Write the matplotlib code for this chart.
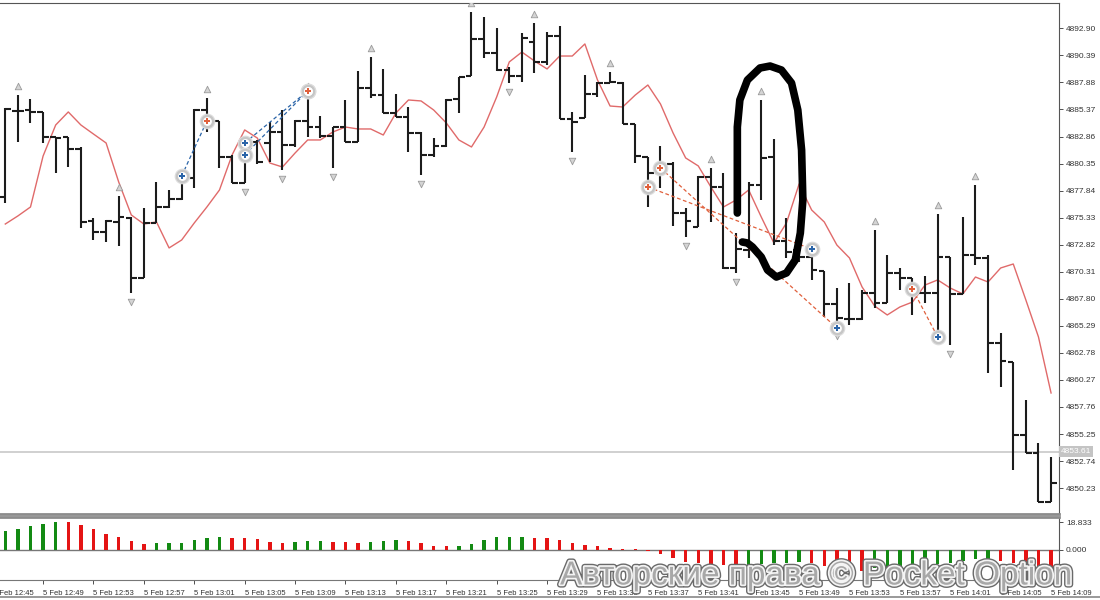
import numpy as np
import matplotlib.pyplot as plt
import matplotlib.patheffects as pe

# 1-minute bars, 5 Feb 12:46 .. 14:09
opens = [4877.25, 4885.23, 4885.32, 4885.14, 4882.82, 4882.82, 4881.70, 4875.02, 4874.00, 4874.93,
         4875.30, 4869.73, 4874.84, 4876.32, 4877.06, 4879.01, 4885.32, 4884.30, 4880.96, 4878.55,
         4882.35, 4882.26, 4883.28, 4882.07, 4884.30, 4883.74, 4882.91, 4883.74, 4882.35, 4887.36,
         4886.71, 4885.04, 4884.67, 4883.19, 4881.15, 4881.98, 4886.34, 4888.48, 4891.91, 4890.61,
         4889.03, 4888.48, 4891.63, 4889.78, 4892.19, 4884.49, 4884.58, 4886.81, 4887.83, 4887.83,
         4884.02, 4880.96, 4879.48, 4880.31, 4875.76, 4874.46, 4879.10, 4878.18, 4870.66, 4872.33,
         4878.36, 4880.96, 4873.17, 4872.33, 4871.68, 4870.38, 4867.32, 4865.93, 4865.93, 4868.34,
         4867.41, 4870.20, 4869.73, 4868.34, 4868.34, 4871.68, 4868.25, 4871.87, 4871.59, 4863.70,
         4861.94, 4855.16, 4853.49, 4848.94]
highs = [4885.51, 4886.71, 4886.34, 4885.14, 4882.82, 4882.82, 4881.89, 4875.30, 4875.11, 4877.34,
         4875.39, 4876.23, 4878.64, 4877.90, 4879.29, 4885.41, 4886.44, 4884.30, 4881.15, 4882.82,
         4882.54, 4884.21, 4885.32, 4884.39, 4886.71, 4884.77, 4883.74, 4886.25, 4888.94, 4890.24,
         4889.13, 4886.81, 4885.60, 4883.28, 4882.72, 4886.34, 4888.38, 4894.42, 4893.95, 4892.93,
         4889.31, 4892.47, 4893.40, 4892.56, 4893.12, 4885.14, 4888.57, 4887.92, 4888.85, 4887.92,
         4884.02, 4880.96, 4881.98, 4880.50, 4876.23, 4879.20, 4879.94, 4879.48, 4873.91, 4878.64,
         4886.25, 4882.63, 4875.30, 4874.19, 4872.42, 4870.38, 4868.80, 4869.27, 4868.62, 4874.19,
         4871.87, 4870.66, 4869.73, 4869.92, 4875.67, 4871.68, 4875.39, 4878.36, 4871.87, 4864.63,
         4861.94, 4858.41, 4854.42, 4853.12]
lows = [4876.69, 4882.35, 4884.12, 4882.26, 4879.48, 4880.03, 4874.37, 4873.26, 4873.07, 4872.70,
        4868.34, 4869.73, 4874.84, 4876.23, 4876.97, 4878.08, 4883.28, 4879.94, 4878.55, 4878.55,
        4880.31, 4880.50, 4879.75, 4881.89, 4882.82, 4882.72, 4879.94, 4882.35, 4882.35, 4886.44,
        4885.04, 4884.67, 4881.42, 4879.29, 4880.96, 4881.89, 4885.04, 4888.48, 4890.15, 4888.94,
        4887.83, 4887.92, 4888.76, 4889.50, 4884.49, 4881.42, 4884.58, 4886.53, 4887.83, 4884.02,
        4880.40, 4876.32, 4878.08, 4874.56, 4873.54, 4874.46, 4874.93, 4870.57, 4870.20, 4871.59,
        4876.97, 4872.79, 4871.59, 4871.22, 4869.55, 4866.11, 4865.18, 4865.37, 4865.83, 4866.95,
        4867.41, 4868.62, 4866.30, 4867.41, 4864.63, 4863.51, 4868.25, 4870.94, 4860.92, 4859.62,
        4851.91, 4853.49, 4848.94, 4848.94]
closes = [4885.41, 4885.23, 4885.14, 4882.82, 4882.72, 4881.70, 4874.93, 4874.00, 4875.02, 4875.39,
          4869.73, 4874.84, 4876.32, 4877.06, 4879.01, 4885.32, 4884.21, 4880.96, 4878.55, 4882.35,
          4880.50, 4883.28, 4882.07, 4884.30, 4883.74, 4882.91, 4883.74, 4882.35, 4887.36, 4886.71,
          4885.04, 4884.67, 4883.19, 4881.15, 4881.98, 4886.25, 4888.38, 4891.91, 4890.61, 4889.03,
          4888.48, 4892.00, 4889.78, 4892.19, 4884.49, 4884.21, 4886.81, 4887.83, 4887.92, 4884.02,
          4881.05, 4879.48, 4880.31, 4875.76, 4875.02, 4879.10, 4878.18, 4870.66, 4872.42, 4878.36,
          4880.87, 4873.17, 4872.14, 4871.68, 4870.47, 4867.32, 4866.02, 4865.93, 4868.34, 4867.41,
          4870.20, 4869.73, 4868.43, 4868.34, 4871.68, 4868.25, 4871.87, 4871.59, 4863.70, 4862.03,
          4855.16, 4853.49, 4848.94, 4850.71]

# moving average (red line)
ma = [4874.74, 4875.49, 4876.32, 4881.05, 4883.93, 4885.14, 4883.93, 4883.09, 4882.26, 4878.64,
      4875.58, 4874.74, 4874.93, 4872.52, 4873.26, 4874.84, 4876.32, 4877.90, 4881.15, 4883.47,
      4882.72, 4880.40, 4880.03, 4881.33, 4882.54, 4882.54, 4883.28, 4883.74, 4883.56, 4883.56,
      4883.00, 4885.04, 4886.25, 4886.16, 4885.32, 4884.12, 4882.54, 4881.89, 4883.74, 4886.53,
      4889.78, 4890.70, 4889.87, 4889.13, 4890.33, 4890.33, 4891.45, 4888.11, 4885.69, 4885.60,
      4886.71, 4887.64, 4885.88, 4883.19, 4880.87, 4880.13, 4878.18, 4876.32, 4876.97, 4877.90,
      4875.39, 4872.98, 4874.84, 4878.45, 4876.04, 4874.93, 4872.79, 4871.59, 4868.90, 4867.13,
      4866.30, 4867.04, 4867.50, 4869.08, 4869.55, 4868.80, 4868.25, 4869.82, 4869.36, 4870.66,
      4871.03, 4867.69, 4864.26, 4859.06]

# oscillator histogram
ao = [12.7, 14.3, 16.2, 17.8, 18.5, 18.5, 16.6, 13.9, 10.9, 8.8,
      6.0, 4.2, 4.6, 4.7, 4.8, 6.5, 8.3, 8.5, 8.3, 8.2,
      7.4, 5.3, 4.6, 5.3, 6.0, 6.2, 5.3, 5.1, 4.6, 5.3,
      6.0, 6.7, 6.0, 4.6, 3.0, 2.5, 2.7, 4.2, 6.7, 8.5,
      8.8, 9.0, 8.3, 7.8, 6.6, 4.7, 3.5, 2.4, 1.2, 0.7,
      0.5, -0.5, -2.8, -5.4, -8.2, -8.9, -9.4, -9.9, -11.3, -10.6,
      -9.4, -8.9, -8.7, -8.2, -8.9, -11.0, -12.5, -13.6, -14.1, -11.8,
      -11.6, -11.4, -11.2, -10.6, -9.4, -8.9, -7.5, -6.3, -5.9, -7.1,
      -8.9, -11.0, -12.9, -17.6]
ao_trend = "GGGGGRRRRRRRGGGGGGRRRRRGGGRRRGGGRRRRGGGGGGRRRRRRRRRRRRRRRRRGGGGGRRRRRGGGGGGGGGGRRRRR"

fractal_up = [1, 9, 16, 24, 29, 37, 42, 48, 56, 60, 69, 74, 77]
fractal_down = [10, 19, 22, 26, 33, 40, 45, 54, 58, 66, 75]

# trades: open bar/price -> close bar/price
trade_side = ["buy", "buy", "buy", "sell", "sell", "sell"]
trade_open_bar = [14, 19, 19, 51, 52, 72]
trade_open_price = [4879.20, 4882.26, 4881.15, 4878.18, 4879.94, 4868.71]
trade_close_bar = [16, 24, 24, 64, 66, 74]
trade_close_price = [4884.30, 4887.08, 4887.08, 4872.42, 4865.09, 4864.26]

# hand drawn loop (bar index, price)
loop_bar = [58.1, 58.1, 58.3, 58.9, 59.9, 60.7, 61.6, 62.4, 62.9, 63.2, 63.3, 63.1, 62.7, 62.0,
            61.2, 60.5, 60.0, 59.3, 58.9, 58.5]
loop_price = [4875.76, 4883.74, 4886.25, 4888.10, 4889.22, 4889.40, 4889.03, 4887.83, 4885.32,
              4881.61, 4876.97, 4873.91, 4871.40, 4870.20, 4869.82, 4870.47, 4871.68, 4872.61,
              4872.98, 4873.07]

price_ticks = [4892.90, 4890.39, 4887.88, 4885.37, 4882.86, 4880.35, 4877.84, 4875.33, 4872.82,
               4870.31, 4867.80, 4865.29, 4862.78, 4860.27, 4857.76, 4855.25, 4852.74, 4850.23]
last_price = 4853.61
time_labels = ["12:45", "12:49", "12:53", "12:57", "13:01", "13:05", "13:09", "13:13", "13:17",
               "13:21", "13:25", "13:29", "13:33", "13:37", "13:41", "13:45", "13:49", "13:53",
               "13:57", "14:01", "14:05", "14:09"]

plt.rcParams['font.family'] = ['Liberation Sans', 'DejaVu Sans']

n = len(opens)
idx = np.arange(n)
W = 1100.0
H = 600.0

fig = plt.figure(figsize=(11, 6), dpi=100)
ax = fig.add_axes([0, 1 - 514 / H, 1059 / W, 511 / H])
hx = fig.add_axes([0, 1 - 580 / H, 1059 / W, 63 / H])

xmin, xmax = -0.42, 83.63

# OHLC bars
bar_col = "#1c1c1c"
ax.vlines(idx, lows, highs, color=bar_col, lw=1.5, zorder=3)
ax.hlines(opens, idx - 0.45, idx, color=bar_col, lw=1.5, zorder=3)
ax.hlines(closes, idx, idx + 0.45, color=bar_col, lw=1.5, zorder=3)

ax.plot(idx, ma, color="#e06a6a", lw=1.0, zorder=2)

# fractal arrows
gap = 0.8
ax.scatter(fractal_up, np.array(highs)[fractal_up] + gap, marker="^", s=22,
           facecolor="#d4d4d4", edgecolor="#9a9a9a", lw=0.6, zorder=4)
ax.scatter(fractal_down, np.array(lows)[fractal_down] - gap, marker="v", s=22,
           facecolor="#d4d4d4", edgecolor="#9a9a9a", lw=0.6, zorder=4)

blue = "#2a64a8"
red = "#e0603c"
for side, ob, op, cb, cp in zip(trade_side, trade_open_bar, trade_open_price,
                                trade_close_bar, trade_close_price):
    c_open = blue if side == "buy" else red
    c_close = red if side == "buy" else blue
    ax.plot([ob, cb], [op, cp], ls=(0, (3, 2)), color=c_open, lw=0.9, zorder=4)
    for b, p, c in ((ob, op, c_open), (cb, cp, c_close)):
        ax.scatter([b], [p], s=110, color="#c6c6c6", zorder=5, edgecolor="#dddddd", lw=0.8)
        ax.scatter([b], [p], s=28, color="white", zorder=6)
        ax.scatter([b], [p], s=16, marker="P", color=c, zorder=7, lw=0)

# current price line
ax.axhline(last_price, color="#c8c8c8", lw=1.2, zorder=1)
ax.text(xmax + 0.15, last_price, f"{last_price:.2f}", fontsize=6, color="white",
        va="center", ha="left", clip_on=False,
        bbox=dict(boxstyle="square,pad=0.25", fc="#c4c4c4", ec="none"))

# hand drawn loop
ax.plot(loop_bar, loop_price, color="black", lw=5.5, solid_capstyle="round",
        solid_joinstyle="round", zorder=8)

ax.set_xlim(xmin, xmax)
ax.set_ylim(4847.83, 4895.25)
ax.set_yticks(price_ticks)
ax.set_yticklabels([f"{v:.2f}" for v in price_ticks])
ax.yaxis.tick_right()
ax.tick_params(axis="y", labelsize=6, colors="#333333", length=3, width=0.6, pad=2)
ax.set_xticks([])
ax.spines["left"].set_visible(False)
ax.spines["top"].set_color("#555555")
ax.spines["right"].set_color("#555555")
ax.spines["bottom"].set_color("#8c8c8c")
ax.spines["bottom"].set_linewidth(2.0)

# histogram
hcol = ["#138a13" if t == "G" else "#e41414" for t in ao_trend]
hx.bar(idx, ao, width=0.26, color=hcol)
hx.axhline(0, color="#777777", lw=1.0, zorder=0)
hx.set_xlim(xmin, xmax)
hx.set_ylim(-20.2, 22.2)
hx.set_yticks([18.833, 0.0])
hx.set_yticklabels(["18.833", "0.000"])
hx.yaxis.tick_right()
hx.tick_params(axis="y", labelsize=6, colors="#333333", length=3, width=0.6, pad=2)

# time axis: one tick every 4 bars, first one sits just left of the view
tick_pos = np.arange(-1, n, 4)
hx.set_xticks(tick_pos[1:])
hx.set_xticklabels([])
hx.tick_params(axis="x", colors="#333333", length=3, width=0.6)
for p, t in zip(tick_pos, time_labels):
    hx.text(p, -0.16, "5 Feb " + t, transform=hx.get_xaxis_transform(), fontsize=5.5,
            color="#333333", ha="left", va="top", clip_on=False)
hx.spines["left"].set_visible(False)
hx.spines["top"].set_color("#8c8c8c")
hx.spines["top"].set_linewidth(2.0)
hx.spines["right"].set_color("#555555")
hx.spines["bottom"].set_color("#777777")

fig.add_artist(plt.Line2D([0, 1], [1 - 597 / H, 1 - 597 / H], color="#888888", lw=1.2))

wm = fig.text(560 / W, 1 - 576 / H, "Авторские права © Pocket Option", fontsize=24,
              color="#a8a8a8", ha="left", va="center")
wm.set_path_effects([pe.Stroke(linewidth=4.5, foreground="#6a6a6a"),
                     pe.Stroke(linewidth=2.5, foreground="#f4f4f4"), pe.Normal()])

fig.savefig("out.png", dpi=100, facecolor="white")
